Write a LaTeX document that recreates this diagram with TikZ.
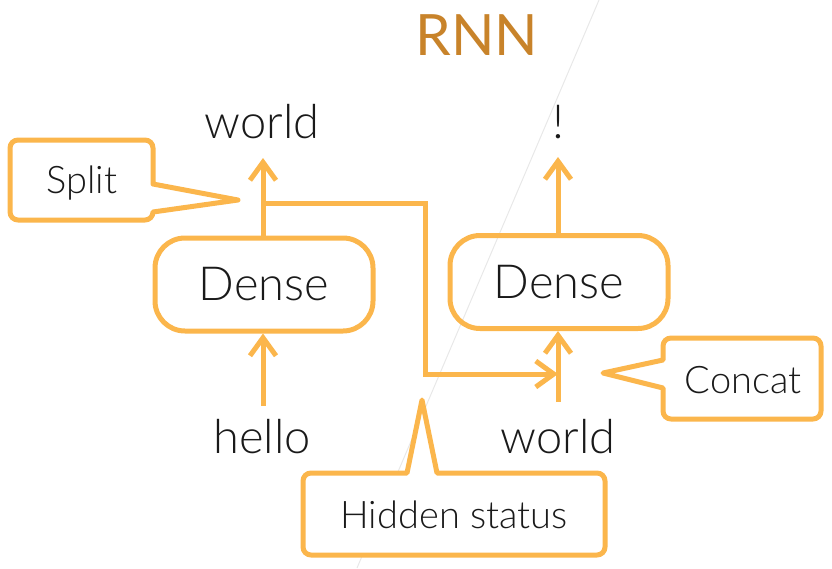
\documentclass[tikz,border=0pt]{standalone}
\usepackage{fontspec}
\setmainfont{Lato Light}
\newfontfamily\titlefont{Lato}
\usetikzlibrary{arrows.meta}
\definecolor{org}{RGB}{251,182,76}
\definecolor{ttl}{RGB}{200,131,42}
\definecolor{txt}{RGB}{26,26,26}
\tikzset{
  lbl/.style={text=txt,font=\fontsize{47}{50}\selectfont,inner sep=0pt},
  cl/.style={text=txt,font=\fontsize{38}{42}\selectfont,inner sep=0pt},
  dense/.style={draw=org,line width=5pt,rounded corners=30pt,minimum width=218pt,minimum height=93pt,text=txt,font=\fontsize{47}{50}\selectfont},
  conn/.style={draw=org,line width=5pt,-{Straight Barb[length=18pt,width=26pt,line width=5pt]}},
  callout/.style={draw=org,line width=5pt,fill=white,rounded corners=8pt,line join=round},
}
\begin{document}
\begin{tikzpicture}[x=1pt,y=-1pt]
\useasboundingbox (0,0) rectangle (832,568);
\draw[black!9,line width=1pt] (599,0) -- (357,568);
\node[text=ttl,font=\titlefont\fontsize{57}{60}\selectfont,inner sep=0pt] (title) at (477,35) {RNN};
\node[lbl] (w1) at (262,122) {world};
\node[lbl] (ex) at (558,122) {!};
\node[lbl] (hello) at (262,437) {hello};
\node[lbl] (w2) at (558,437) {world};
\node[dense] (d1) at (264,284.5) {Dense};
\node[dense] (d2) at (559,282) {Dense};
\coordinate (t1) at (263,158);
\coordinate (t2) at (558,157);
\coordinate (b1) at (263,406);
\coordinate (b2) at (558,402);
\coordinate (hb) at (263,203);
\coordinate (hend) at (558,374);
\draw[conn] (d1.north -| t1) -- (t1);
\draw[conn] (b1) -- (d1.south -| b1);
\draw[conn] (d2.north -| t2) -- (t2);
\draw[conn] (b2) -- (d2.south -| b2);
\draw[conn,line join=miter] (hb) -- (425,203) -- (425,374) -- (hend);
% Split callout
\draw[callout] (153,212) [sharp corners] -- (238,200) -- (153,184) [rounded corners=8pt] -- (153,140) -- (10,140) -- (10,220) -- (153,220) [sharp corners] -- cycle;
\node[cl] (split) at (82,183) {Split};
% Concat callout
\draw[callout] (663,388) [sharp corners] -- (603,373) -- (663,360) [rounded corners=8pt] -- (663,338) -- (821,338) -- (821,419) -- (663,419) [sharp corners] -- cycle;
\node[cl] (concat) at (743,380) {Concat};
% Hidden status callout
\draw[callout] (407,473) [sharp corners] -- (422,400) -- (437,473) [rounded corners=8pt] -- (605,473) -- (605,555) -- (303,555) -- (303,473) [sharp corners] -- cycle;
\node[cl] (hidden) at (454,515) {Hidden status};
\end{tikzpicture}
\end{document}
